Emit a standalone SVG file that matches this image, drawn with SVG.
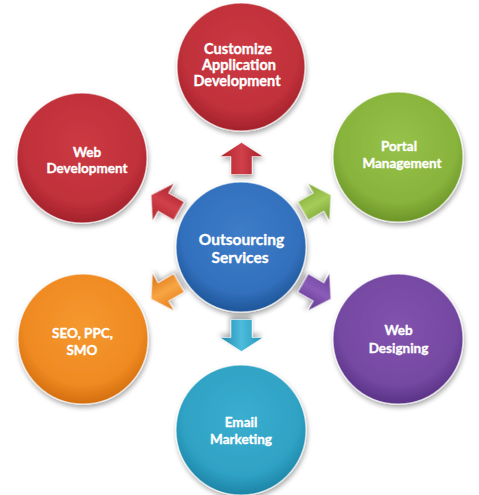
<svg xmlns="http://www.w3.org/2000/svg" width="479" height="495" viewBox="0 0 479 495">
<defs>
<filter id="sh" x="-20%" y="-20%" width="140%" height="150%">
<feGaussianBlur in="SourceAlpha" stdDeviation="2.5"/>
<feOffset dx="1" dy="3" result="b"/>
<feComponentTransfer><feFuncA type="linear" slope="0.35"/></feComponentTransfer>
<feMerge><feMergeNode/><feMergeNode in="SourceGraphic"/></feMerge>
</filter>
<radialGradient id="gRed" cx="50%" cy="40%" r="60%"><stop offset="0" stop-color="#cc3a42"/><stop offset="0.75" stop-color="#c0303a"/><stop offset="1" stop-color="#a2222b"/></radialGradient>
<radialGradient id="gGreen" cx="50%" cy="40%" r="60%"><stop offset="0" stop-color="#96c24a"/><stop offset="0.75" stop-color="#88b33c"/><stop offset="1" stop-color="#6c9528"/></radialGradient>
<radialGradient id="gPurple" cx="50%" cy="40%" r="60%"><stop offset="0" stop-color="#8253ae"/><stop offset="0.75" stop-color="#7549a2"/><stop offset="1" stop-color="#593286"/></radialGradient>
<radialGradient id="gCyan" cx="50%" cy="40%" r="60%"><stop offset="0" stop-color="#3aaed0"/><stop offset="0.75" stop-color="#2fa2c4"/><stop offset="1" stop-color="#1d84a6"/></radialGradient>
<radialGradient id="gOrange" cx="50%" cy="40%" r="60%"><stop offset="0" stop-color="#f5982f"/><stop offset="0.75" stop-color="#ef8a22"/><stop offset="1" stop-color="#d36e0e"/></radialGradient>
<radialGradient id="gBlue" cx="50%" cy="40%" r="60%"><stop offset="0" stop-color="#3e7cc8"/><stop offset="0.75" stop-color="#3270bd"/><stop offset="1" stop-color="#1f5598"/></radialGradient>
<linearGradient id="aRed" x1="0" y1="0" x2="1" y2="0"><stop offset="0" stop-color="#b0242c"/><stop offset="0.5" stop-color="#d0404a"/><stop offset="1" stop-color="#a51f28"/></linearGradient>
<linearGradient id="aGreen" x1="0" y1="0" x2="1" y2="0"><stop offset="0" stop-color="#7aa830"/><stop offset="0.5" stop-color="#a6cc5a"/><stop offset="1" stop-color="#6e9a28"/></linearGradient>
<linearGradient id="aPurple" x1="0" y1="0" x2="1" y2="0"><stop offset="0" stop-color="#6a3e98"/><stop offset="0.5" stop-color="#8a5cb8"/><stop offset="1" stop-color="#5c348a"/></linearGradient>
<linearGradient id="aCyan" x1="0" y1="0" x2="1" y2="0"><stop offset="0" stop-color="#2596b8"/><stop offset="0.5" stop-color="#4cbcdc"/><stop offset="1" stop-color="#1f88aa"/></linearGradient>
<linearGradient id="aOrange" x1="0" y1="0" x2="1" y2="0"><stop offset="0" stop-color="#e27a14"/><stop offset="0.5" stop-color="#f8a544"/><stop offset="1" stop-color="#d86e0c"/></linearGradient>
<path id="arr" d="M0,-16 L21.5,-2 L10.5,-2 L10.5,16 L-10.5,16 L-10.5,-2 L-21.5,-2 Z"/>
</defs>
<style>
.node circle{stroke:#ffffff;stroke-opacity:0.55;stroke-width:1.5;filter:url(#sh)}
.node text{font-family:Lato,"Open Sans","Liberation Sans",sans-serif;font-weight:bold;fill:#ffffff;stroke:#ffffff;stroke-width:0.35;text-anchor:middle;font-size:13.5px}
#center text{font-size:15.5px}
#customize text{font-size:14.5px}
.conn use{stroke:#ffffff;stroke-opacity:0.5;stroke-width:1;stroke-linejoin:round;filter:url(#sh)}
</style>
<rect width="479" height="495" fill="#ffffff"/>
<g id="connectors" class="conn">
<use href="#arr" fill="url(#aRed)" transform="translate(241.5,158.5)"/>
<use href="#arr" fill="url(#aGreen)" transform="translate(317,203) rotate(60)"/>
<use href="#arr" fill="url(#aPurple)" transform="translate(317,291) rotate(120)"/>
<use href="#arr" fill="url(#aCyan)" transform="translate(241.5,335.5) rotate(180)"/>
<use href="#arr" fill="url(#aOrange)" transform="translate(165,291) rotate(-120)"/>
<use href="#arr" fill="url(#aRed)" transform="translate(165,203) rotate(-60)"/>
</g>
<g id="center" class="node">
<circle cx="241" cy="247" r="65" fill="url(#gBlue)"/>
<text x="241.5" y="245">Outsourcing</text>
<text x="240" y="263">Services</text>
</g>
<g id="customize" class="node">
<circle cx="241" cy="67" r="64" fill="url(#gRed)"/>
<text x="238" y="54">Customize</text>
<text x="239" y="70">Application</text>
<text x="237" y="86">Development</text>
</g>
<g id="portal" class="node">
<circle cx="398" cy="157" r="65" fill="url(#gGreen)"/>
<text x="399" y="151">Portal</text>
<text x="402" y="167.5">Management</text>
</g>
<g id="webdesigning" class="node">
<circle cx="398" cy="339" r="65" fill="url(#gPurple)"/>
<text x="398.5" y="335">Web</text>
<text x="398.5" y="353">Designing</text>
</g>
<g id="email" class="node">
<circle cx="241" cy="430" r="65" fill="url(#gCyan)"/>
<text x="241" y="427">Email</text>
<text x="241" y="444">Marketing</text>
</g>
<g id="seo" class="node">
<circle cx="83" cy="339" r="65" fill="url(#gOrange)"/>
<text x="82.5" y="338">SEO, PPC,</text>
<text x="82" y="355">SMO</text>
</g>
<g id="webdev" class="node">
<circle cx="82" cy="158" r="65" fill="url(#gRed)"/>
<text x="87" y="156.5">Web</text>
<text x="87" y="173">Development</text>
</g>
</svg>
